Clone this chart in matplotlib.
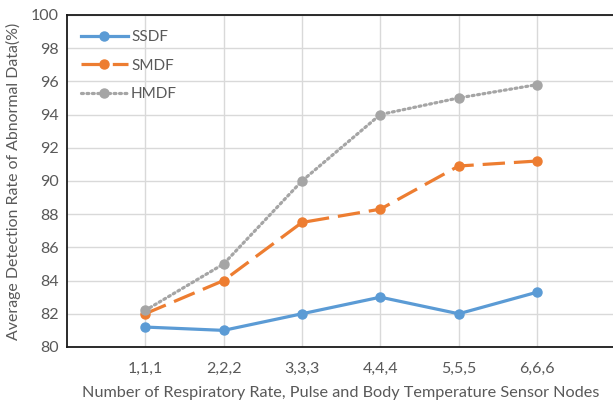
import matplotlib.pyplot as plt

plt.rcParams['font.family'] = ['Lato', 'DejaVu Sans']

# 数据
categories = ['1,1,1', '2,2,2', '3,3,3', '4,4,4', '5,5,5', '6,6,6']
ssdf = [81.2, 81.0, 82.0, 83.0, 82.0, 83.3]
smdf = [82.0, 84.0, 87.5, 88.3, 90.9, 91.2]
hmdf = [82.2, 85.0, 90.0, 94.0, 95.0, 95.8]
yticks = [80, 82, 84, 86, 88, 90, 92, 94, 96, 98, 100]

txt = '#595959'
fig = plt.figure(figsize=(6.13, 4.03), dpi=100)
ax = fig.add_axes([0.109, 0.139, 0.895, 0.824])

x = list(range(1, len(categories) + 1))
ax.plot(x, ssdf, color='#5B9BD5', lw=2.3, marker='o', ms=6.5, label='SSDF', zorder=3)
ax.plot(x, smdf, color='#ED7D31', lw=2.3, ls=(0, (7, 2.8)), marker='o', ms=6.5,
        label='SMDF', zorder=3)
ax.plot(x, hmdf, color='#A5A5A5', lw=2.3, ls=(0, (0.6, 1.1)), dash_capstyle='round',
        marker='o', ms=6.5, label='HMDF', zorder=3)

ax.set_xlim(0, 7.0)
ax.set_ylim(80, 100)
ax.set_xticks(x)
ax.set_xticklabels(categories)
ax.set_yticks(yticks)
ax.grid(True, color='#D9D9D9', lw=1)
ax.set_axisbelow(True)
ax.tick_params(length=0, labelsize=11.5, colors=txt, pad=6)
ax.tick_params(axis='x', pad=11)

for s in ['left', 'bottom', 'top']:
    ax.spines[s].set_color('#1a1a1a')
    ax.spines[s].set_linewidth(1.3)
ax.spines['right'].set_visible(False)

ax.set_xlabel('Number of Respiratory Rate, Pulse and Body Temperature Sensor Nodes',
              fontsize=11.7, color=txt, labelpad=7)
ax.set_ylabel('Average Detection Rate of Abnormal Data(%)', fontsize=11.4, color=txt,
              labelpad=7)

leg = ax.legend(loc='upper left', frameon=False, fontsize=11, handlelength=3.1,
                handletextpad=0.2, labelspacing=0.95, bbox_to_anchor=(0.0, 0.995))
for t in leg.get_texts():
    t.set_color(txt)

fig.savefig('out.png', dpi=100)
